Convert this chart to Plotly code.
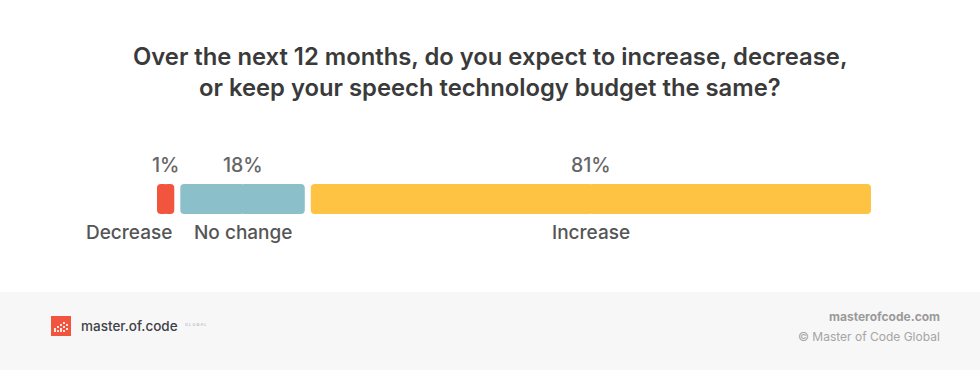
import plotly.graph_objects as go

# ---- data ----
categories = ["Decrease", "No change", "Increase"]
values = [1, 18, 81]
pct_labels = ["1%", "18%", "81%"]
colors = ["#F2553D", "#8BBFCA", "#FFC343"]

title_lines = ["Over the next 12 months, do you expect to increase, decrease,",
               "or keep your speech technology budget the same?"]

W, H = 980, 370
track_left_px, track_right_px = 157, 871
gap_px = 6
min_units = 2.5  # minimum visual length for very small shares

disp = [max(v, min_units) for v in values]
total = sum(disp)
k = (track_right_px - track_left_px - gap_px * (len(values) - 1)) / total  # px per unit
gap_u = gap_px / k
ov = 2 / k  # small overlap of the two halves to hide the seam

starts, mids, ends = [], [], []
pos = 0.0
for d in disp:
    starts.append(pos)
    mids.append(pos + d / 2)
    ends.append(pos + d)
    pos += d + gap_u

x_range = [-track_left_px / k, (W - track_left_px) / k]

fig = go.Figure()
# each bar drawn as two halves from its middle so all four corners get rounded
for i, c in enumerate(categories):
    half = disp[i] / 2
    for sign in (1, -1):
        fig.add_trace(go.Bar(
            y=["bar"], x=[sign * (half + ov)], base=[mids[i] - sign * ov], orientation="h",
            marker=dict(color=colors[i], line=dict(width=0)),
            width=1, showlegend=False, hoverinfo="skip"))

font_family = "Inter"

def py(px):
    return 1 - px / H

annotations = []
for i, c in enumerate(categories):
    annotations.append(dict(x=mids[i], y=py(165), xref="x", yref="paper", yanchor="middle",
                            text=pct_labels[i], showarrow=False,
                            font=dict(family=font_family, size=19.5, weight=500, color="#666666")))
    annotations.append(dict(x=ends[i] if i == 0 else mids[i], y=py(232), xref="x", yref="paper",
                            xanchor="right" if i == 0 else "center",
                            yanchor="middle", text=c, showarrow=False,
                            font=dict(family=font_family, size=19, weight=500, color="#555555")))

# title
for j, line in enumerate(title_lines):
    annotations.append(dict(x=0.5, y=py(57 + 30 * j), xref="paper", yref="paper",
                            xanchor="center", yanchor="middle", text=line,
                            showarrow=False,
                            font=dict(family=font_family, size=23.8, weight=600, color="#3A3A3A")))

# footer texts
annotations += [
    dict(x=79 / W, y=py(326), xref="paper", yref="paper", xanchor="left", yanchor="middle",
         text="master.of.code", showarrow=False,
         font=dict(family=font_family, size=13.5, weight=500, color="#3E4148")),
    dict(x=183 / W, y=py(324), xref="paper", yref="paper", xanchor="left", yanchor="middle",
         text="G L O B A L", showarrow=False,
         font=dict(family=font_family, size=4, color="#9AA9B5")),
    dict(x=942 / W, y=py(316), xref="paper", yref="paper", xanchor="right", yanchor="middle",
         text="<b>masterofcode.com</b>", showarrow=False,
         font=dict(family=font_family, size=12, color="#9A9A9A")),
    dict(x=942 / W, y=py(336), xref="paper", yref="paper", xanchor="right", yanchor="middle",
         text="© Master of Code Global", showarrow=False,
         font=dict(family=font_family, size=12, color="#A5A5A5")),
]

shapes = [
    dict(type="rect", xref="paper", yref="paper", x0=0, x1=1, y0=0, y1=py(292),
         fillcolor="#F7F7F7", line=dict(width=0), layer="below"),
    dict(type="rect", xref="paper", yref="paper", x0=51 / W, x1=71 / W,
         y0=py(336), y1=py(316), fillcolor="#F2553D", line=dict(width=0)),
]
# simple white pixel pattern in the logo
pix = [(54, 328), (57, 326), (60, 328), (63, 326), (66, 324), (63, 322), (54, 330), (57, 330),
       (60, 330), (63, 330), (66, 328), (60, 324)]
for px_, py_ in pix:
    shapes.append(dict(type="rect", xref="paper", yref="paper", x0=px_ / W, x1=(px_ + 2) / W,
                       y0=py(py_ + 2), y1=py(py_), fillcolor="rgba(255,255,255,0.85)",
                       line=dict(width=0)))

fig.update_layout(
    width=W, height=H,
    margin=dict(l=0, r=0, t=0, b=0),
    paper_bgcolor="white", plot_bgcolor="rgba(0,0,0,0)",
    barmode="overlay", barcornerradius=4,
    xaxis=dict(range=x_range, visible=False, fixedrange=True),
    yaxis=dict(domain=[py(214), py(184)], range=[-0.5, 0.5], visible=False,
               fixedrange=True),
    annotations=annotations, shapes=shapes,
    showlegend=False,
)

fig.write_html("out.html", post_script="document.body.style.margin='0';",
               config={"displayModeBar": False})
